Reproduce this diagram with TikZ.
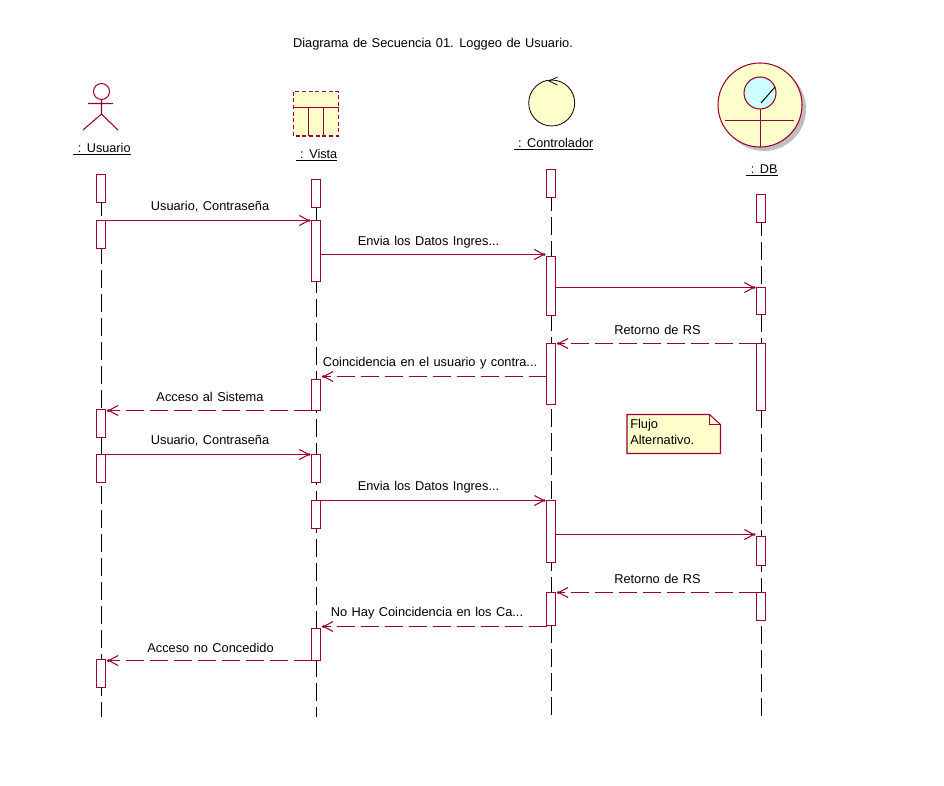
\documentclass[tikz,border=0pt]{standalone}
\usepackage{fontspec}
\setmainfont[WordSpace=1.25]{Liberation Sans}
\usetikzlibrary{arrows.meta}
\definecolor{rose}{HTML}{990033}
\definecolor{pale}{HTML}{FFFFCC}
\definecolor{iceblue}{HTML}{CCFFFF}
\tikzset{
  x=0.75pt,y=-0.75pt,
  rosepen/.style={draw=rose,line width=0.8pt},
  lifeline/.style={draw=black,line width=0.8pt,dash pattern=on 13.5pt off 4.5pt},
  actbox/.style={draw=rose,fill=white,line width=0.8pt,minimum width=6.75pt,inner sep=0pt,outer sep=0pt},
  msg/.style={draw=rose,line width=0.8pt,shorten >=0.75pt,-{Straight Barb[length=7pt,width=7.5pt,sep=-1.5pt]Circle[length=2pt,width=2pt]}},
  ret/.style={msg,shorten >=1.1pt,dash pattern=on 13.5pt off 4.5pt},
  lbl/.style={font=\fontsize{9.6}{11}\selectfont,inner sep=0pt,text=black},
  namelbl/.style={font=\fontsize{9.5}{11}\selectfont,inner sep=0pt,text=black}
}
\newcommand{\act}[4]{\pgfmathsetmacro{\hh}{(#4-#3)*0.75}\pgfmathsetmacro{\mm}{(#3+#4)/2}
  \node[actbox,minimum height=\hh pt] (#1) at (#2,\mm) {};}
\begin{document}
\begin{tikzpicture}
\useasboundingbox (0,0) rectangle (944,785);
\fill[white] (0,0) rectangle (944,785);
\node[lbl] (title) at (433,44) {Diagrama de Secuencia 01. Loggeo de Usuario.};
% actor
\draw[rosepen] (101.5,91.5) circle (8);
\coordinate (ah) at (101.5,99.5);
\coordinate (ab) at (101.5,114);
\coordinate (al) at (83,130);
\coordinate (ar) at (118,130);
\coordinate (aa) at (88,103.5);
\coordinate (ac) at (113,103.5);
\draw[rosepen] (ah)--(ab) (ab)--(al) (ab)--(ar) (aa)--(ac);
\node[namelbl] (nu) at (102,149) {\underline{\ : Usuario}};
% boundary-table
\filldraw[rosepen,fill=pale,densely dashed] (293.5,91.5) rectangle (338.5,136);
\draw[rosepen] (293.5,107.5)--(338.5,107.5) (308.5,107.5)--(308.5,136) (323.5,107.5)--(323.5,136);
\node[namelbl] (nv) at (316.5,155.5) {\underline{\ : Vista}};
% controller
\filldraw[draw=black,fill=pale,line width=0.6pt] (551.7,103) circle (23);
\draw[black,line width=0.6pt] (557.5,77)--(549,81)--(557.5,85);
\node[namelbl] (nc) at (553.5,144) {\underline{\ : Controlador}};
% DB
\fill[black!25] (764,109) circle (42);
\filldraw[rosepen,fill=pale] (760,105) circle (42);
\filldraw[rosepen,fill=iceblue] (760,93) circle (16);
\draw[white,line width=0.6pt] (749,93) arc (180:100:11);
\draw[rosepen] (760.5,109)--(760.5,147) (725,120.5)--(794,120.5);
\draw[black,line width=0.75pt] (761,103)--(775,87);
\node[namelbl] (nd) at (762,170) {\underline{\ : DB}};
% lifelines
\coordinate (lu) at (101.5,174); \coordinate (lue) at (101.5,717);
\coordinate (lv) at (316.5,179); \coordinate (lve) at (316.5,717);
\coordinate (lc) at (551.5,169); \coordinate (lce) at (551.5,717);
\coordinate (ld) at (761.5,194); \coordinate (lde) at (761.5,717);
\draw[lifeline] (lu)--(lue);
\draw[lifeline] (lv)--(lve);
\draw[lifeline] (lc)--(lce);
\draw[lifeline] (ld)--(lde);
% activations
\act{ua}{101}{174.5}{202.5}
\act{ub}{101}{220.5}{248.5}
\act{uc}{101}{409.5}{437.5}
\act{ud}{101}{454.5}{482.5}
\act{ue}{101}{659.5}{687.5}
\act{va}{316}{179.5}{207.5}
\act{vb}{316}{220.5}{281.5}
\act{vc}{316}{379.5}{410.5}
\act{vd}{316}{454.5}{482.5}
\act{ve}{316}{500.5}{528.5}
\act{vf}{316}{628.5}{660.5}
\act{ca}{551}{169.5}{197.5}
\act{cb}{551}{256.5}{315.5}
\act{cc}{551}{343.5}{404.5}
\act{cd}{551}{500.5}{562.5}
\act{ce}{551}{592.5}{625.5}
\act{da}{761}{194.5}{222.5}
\act{db}{761}{287.5}{314.5}
\act{dc}{761}{343.5}{410.5}
\act{dd}{761}{536.5}{565.5}
\act{de}{761}{592.5}{620.5}
% messages
\draw[msg] (ub.east |- 0,220.5) -- (vb.west |- 0,220.5);
\draw[msg] (vb.east |- 0,254.5) -- (cb.west |- 0,254.5);
\draw[msg] (cb.east |- 0,287.5) -- (db.west |- 0,287.5);
\draw[ret] (dc.west |- 0,343.5) -- (cc.east |- 0,343.5);
\draw[ret] (cc.west |- 0,376.5) -- (vc.east |- 0,376.5);
\draw[ret] (vc.west |- 0,410.5) -- (uc.east |- 0,410.5);
\draw[msg] (ud.east |- 0,454.5) -- (vd.west |- 0,454.5);
\draw[msg] (ve.east |- 0,500.5) -- (cd.west |- 0,500.5);
\draw[msg] (cd.east |- 0,534.5) -- (dd.west |- 0,534.5);
\draw[ret] (de.west |- 0,592.5) -- (ce.east |- 0,592.5);
\draw[ret] (ce.west |- 0,626.5) -- (vf.east |- 0,626.5);
\draw[ret] (vf.west |- 0,660.5) -- (ue.east |- 0,660.5);
% labels
\node[lbl] (m1) at (210,207) {Usuario, Contraseña};
\node[lbl] (m2) at (428.5,242) {Envia los Datos Ingres...};
\node[lbl] (m4) at (657.5,330) {Retorno de RS};
\node[lbl] (m5) at (430,363) {Coincidencia en el usuario y contra...};
\node[lbl] (m6) at (210,397) {Acceso al Sistema};
\node[lbl] (m7) at (210,441) {Usuario, Contraseña};
\node[lbl] (m8) at (428.5,487) {Envia los Datos Ingres...};
\node[lbl] (m10) at (657.5,579) {Retorno de RS};
\node[lbl] (m11) at (427,613) {No Hay Coincidencia en los Ca...};
\node[lbl] (m12) at (210.5,648) {Acceso no Concedido};
% note
\filldraw[rosepen,fill=pale] (627,414.5) -- (709.5,414.5) -- (720.5,424.5) -- (720.5,453.5) -- (627,453.5) -- cycle;
\draw[rosepen] (709.5,414.5) -- (709.5,424.5) -- (720.5,424.5);
\node[lbl,anchor=west] (n1) at (630,425) {Flujo};
\node[lbl,anchor=west] (n2) at (630,440) {Alternativo.};
\end{tikzpicture}
\end{document}
